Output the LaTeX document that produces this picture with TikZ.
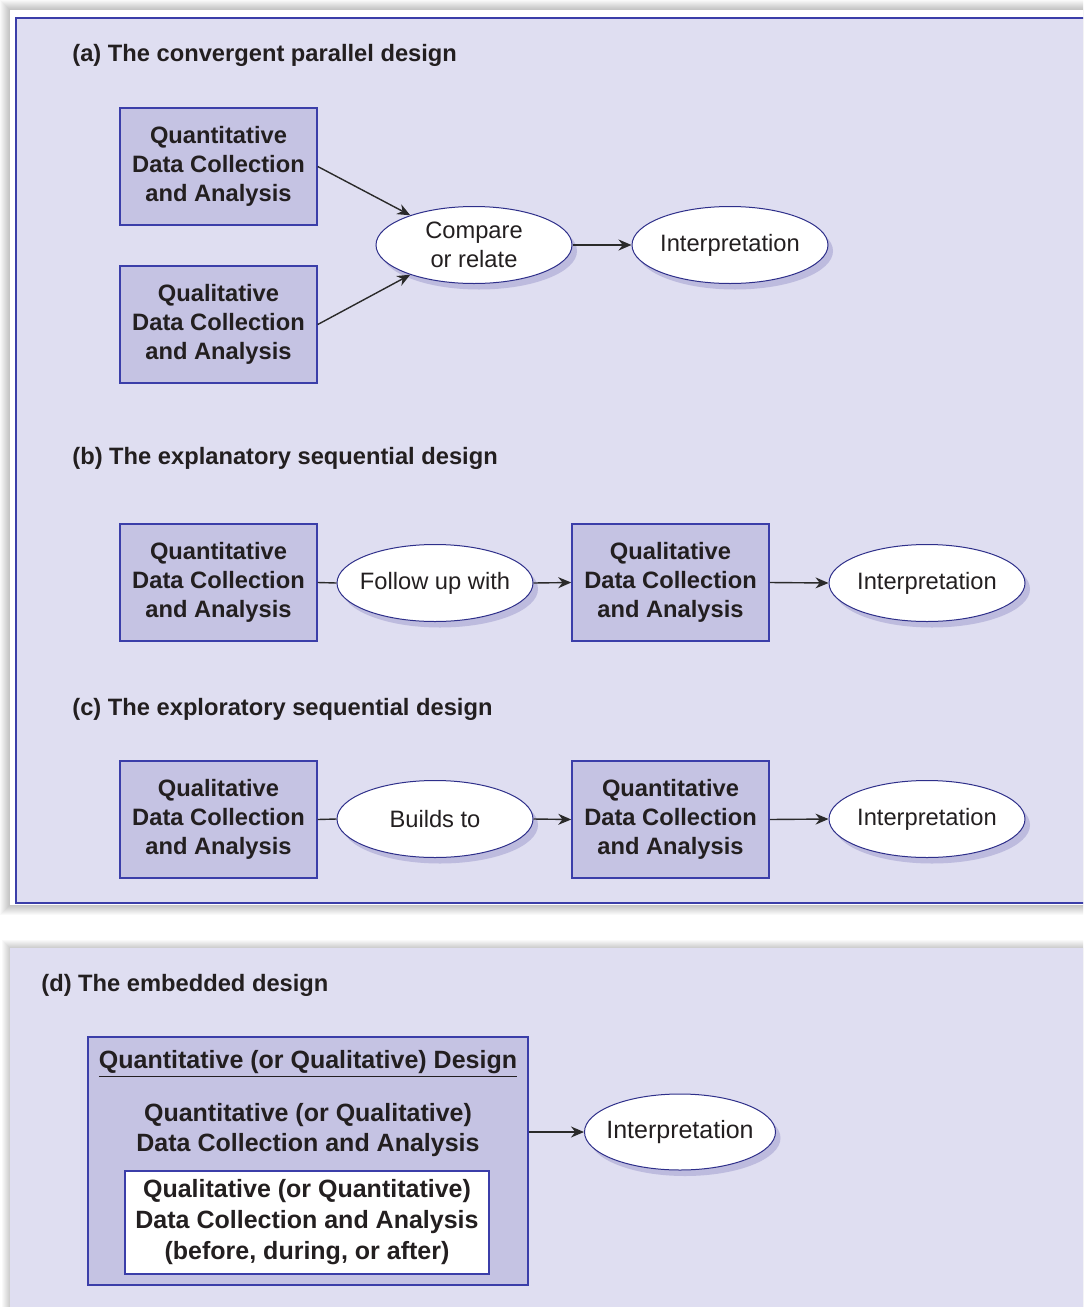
\documentclass[tikz,border=0pt]{standalone}
\usepackage{fontspec}
\setmainfont{Liberation Sans}
\usetikzlibrary{arrows.meta,shapes.geometric,shadows}
\definecolor{panelfill}{HTML}{DFDEF1}
\definecolor{boxfill}{HTML}{C5C3E3}
\definecolor{edge}{HTML}{3B3EA9}
\definecolor{ovaledge}{HTML}{2E2F8A}
\definecolor{ovalshade}{HTML}{BDBBDE}
\definecolor{ink}{HTML}{231F20}
\definecolor{wire}{HTML}{2A2A2A}
\newcommand{\bodyfont}{\fontsize{11.85}{14.5}\selectfont}
\newcommand{\bigbodyfont}{\fontsize{12.5}{15.2}\selectfont}
% a single line that does not widen its ellipse
\newcommand{\oneline}[1]{\makebox[0pt]{#1}}
\begin{document}
\begin{tikzpicture}[x=0.5pt,y=-0.5pt,
  every node/.style={text=ink, font=\bodyfont},
  heading/.style={anchor=west, inner sep=0pt, font=\bfseries\bodyfont},
  databox/.style={draw=edge, line width=0.75pt, fill=boxfill, minimum width=98.5pt,
    minimum height=58.5pt, inner sep=0pt, align=center, font=\bfseries\bodyfont},
  oval/.style={ellipse, draw=ovaledge, line width=0.5pt, fill=white, minimum width=98pt,
    minimum height=38.5pt, inner sep=0pt, align=center,
    drop shadow={shadow xshift=2.5pt, shadow yshift=-3pt, fill=ovalshade, opacity=1}},
  link/.style={draw=wire, line width=0.7pt},
  flow/.style={link, -{Stealth[length=6.5pt,width=5.5pt]}}
]
\useasboundingbox (0,0) rectangle (1083,1307);
\clip (0,0) rectangle (1083,1307);
\fill[white] (0,0) rectangle (1083,1307);

% soft shadows behind the two panels
\foreach \i in {1,...,10}
  \fill[black, opacity=0.022] (10-\i,10-\i) rectangle (1100,905+\i);
\foreach \i in {1,...,8}
  \fill[black, opacity=0.022] (10-\i,948-\i) rectangle (1100,1320);

% upper panel: designs (a)-(c)
\fill[white] (10,10) rectangle (1100,905);
\draw[edge, fill=panelfill, line width=0.8pt] (16,18) rectangle (1100,903);
% lower panel: design (d)
\fill[panelfill] (10,948) rectangle (1100,1320);

% (a) convergent parallel design
\node[heading] (ta) at (72,55) {(a) The convergent parallel design};
\node[databox] (qna) at (218.5,166.5) {Quantitative\\Data Collection\\and Analysis};
\node[databox] (qla) at (218.5,324.5) {Qualitative\\Data Collection\\and Analysis};
\node[oval] (cmp) at (474,245) {Compare\\or relate};
\node[oval] (ina) at (730,245) {\oneline{Interpretation}};
\draw[flow] (qna.east) -- (cmp.155);
\draw[flow] (qla.east) -- (cmp.205);
\draw[flow] (cmp.east) -- (ina.west);

% (b) explanatory sequential design
\node[heading] (tb) at (72,458) {(b) The explanatory sequential design};
\node[databox] (qnb) at (218.5,582.5) {Quantitative\\Data Collection\\and Analysis};
\node[oval] (fol) at (435,583) {\oneline{Follow up with}};
\node[databox] (qlb) at (670.5,582.5) {Qualitative\\Data Collection\\and Analysis};
\node[oval] (inb) at (927,583) {\oneline{Interpretation}};
\draw[link] (qnb.east) -- (fol.west);
\draw[flow] (fol.east) -- (qlb.west);
\draw[flow] (qlb.east) -- (inb.west);

% (c) exploratory sequential design
\node[heading] (tc) at (72,709) {(c) The exploratory sequential design};
\node[databox] (qlc) at (218.5,819.5) {Qualitative\\Data Collection\\and Analysis};
\node[oval] (bld) at (435,819) {\oneline{Builds to}};
\node[databox] (qnc) at (670.5,819.5) {Quantitative\\Data Collection\\and Analysis};
\node[oval] (inc) at (927,819) {\oneline{Interpretation}};
\draw[link] (qlc.east) -- (bld.west);
\draw[flow] (bld.east) -- (qnc.west);
\draw[flow] (qnc.east) -- (inc.west);

% (d) embedded design
\node[heading] (td) at (41,985) {(d) The embedded design};
\node[draw=edge, fill=boxfill, line width=0.75pt, minimum width=220pt,
  minimum height=124pt, inner sep=0pt] (emb) at (308,1161) {};
\node[font=\bfseries\bigbodyfont, inner sep=0pt] (embtitle) at (308,1064)
  {\underline{Quantitative (or Qualitative) Design}};
\node[font=\bfseries\bigbodyfont, align=center, inner sep=0pt] (embmain) at (308,1130)
  {Quantitative (or Qualitative)\\Data Collection and Analysis};
\node[draw=edge, fill=white, line width=0.75pt, minimum width=182pt, minimum height=51.5pt,
  inner sep=0pt, align=center, font=\bfseries\fontsize{12.5}{15.5}\selectfont] (nested) at (307,1222.5)
  {Qualitative (or Quantitative)\\Data Collection and Analysis\\(before, during, or after)};
\node[oval, minimum width=95.5pt, minimum height=38pt, font=\bigbodyfont] (ind) at (680,1132)
  {\oneline{Interpretation}};
\draw[flow] (emb.east |- ind.west) -- (ind.west);
\end{tikzpicture}
\end{document}
